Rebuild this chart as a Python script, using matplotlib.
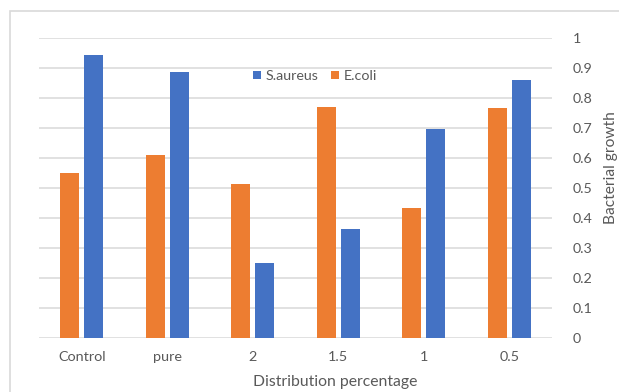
import matplotlib
matplotlib.use("Agg")
import matplotlib.pyplot as plt
import numpy as np
from matplotlib.patches import Rectangle

categories = ["Control", "pure", "2", "1.5", "1", "0.5"]
s_aureus = [0.944, 0.887, 0.252, 0.363, 0.697, 0.861]
e_coli = [0.551, 0.611, 0.513, 0.772, 0.433, 0.767]
y_ticks = [0, 0.1, 0.2, 0.3, 0.4, 0.5, 0.6, 0.7, 0.8, 0.9, 1]
y_tick_labels = ["0", "0.1", "0.2", "0.3", "0.4", "0.5", "0.6", "0.7", "0.8", "0.9", "1"]

BLUE = "#4472C4"
ORANGE = "#ED7D31"
TEXT = "#595959"
GRID = "#D9D9D9"

plt.rcParams["font.family"] = ["Lato", "DejaVu Sans"]

W, H = 619, 392
fig = plt.figure(figsize=(W / 100, H / 100), dpi=100)
fig.patch.set_facecolor("white")

# chart-area border
fig.patches.append(Rectangle((10 / W, -0.1), 1.2, (H - 11) / H + 0.1,
                             transform=fig.transFigure, fill=False,
                             edgecolor=GRID, linewidth=1.2))

left, right, top, bottom = 39, 552, 38.3, 338.3
ax = fig.add_axes([left / W, 1 - bottom / H, (right - left) / W, (bottom - top) / H])
ax.set_facecolor("none")

x = np.arange(len(categories))
width = 0.22
offset = 0.142
ax.bar(x - offset, e_coli, width, color=ORANGE, label="E.coli", zorder=3)
ax.bar(x + offset, s_aureus, width, color=BLUE, label="S.aureus", zorder=3)

ax.set_xlim(-0.5, len(categories) - 0.5)
ax.set_ylim(0, 1)
ax.set_yticks(y_ticks)
ax.set_yticklabels(y_tick_labels)
ax.yaxis.tick_right()
ax.grid(axis="y", color=GRID, linewidth=1.1, zorder=0)
for s in ax.spines.values():
    s.set_visible(False)
ax.tick_params(axis="y", length=0, pad=15, labelsize=10.3, labelcolor=TEXT)
for lbl in ax.get_yticklabels():
    lbl.set_horizontalalignment("left")
ax.tick_params(axis="x", length=0, pad=9, labelsize=10.4, labelcolor=TEXT)
ax.set_xticks(x)
ax.set_xticklabels(categories)

fig.text(611.5 / W, 1 - 168 / H, "Bacterial growth", rotation=90, ha="center",
         va="center", color=TEXT, fontsize=11.2)
fig.text(335 / W, 1 - 382 / H, "Distribution percentage", ha="center",
         va="center", color=TEXT, fontsize=11.3)

handles, labels = ax.get_legend_handles_labels()
leg = fig.legend(handles[::-1], labels[::-1], loc="center",
                 bbox_to_anchor=(315 / W, 1 - 76 / H), ncol=2, frameon=False,
                 fontsize=10.3, handlelength=0.55, handleheight=0.55,
                 handletextpad=0.3, columnspacing=0.9, labelcolor=TEXT)

fig.savefig("out.png", dpi=100, facecolor="white")
